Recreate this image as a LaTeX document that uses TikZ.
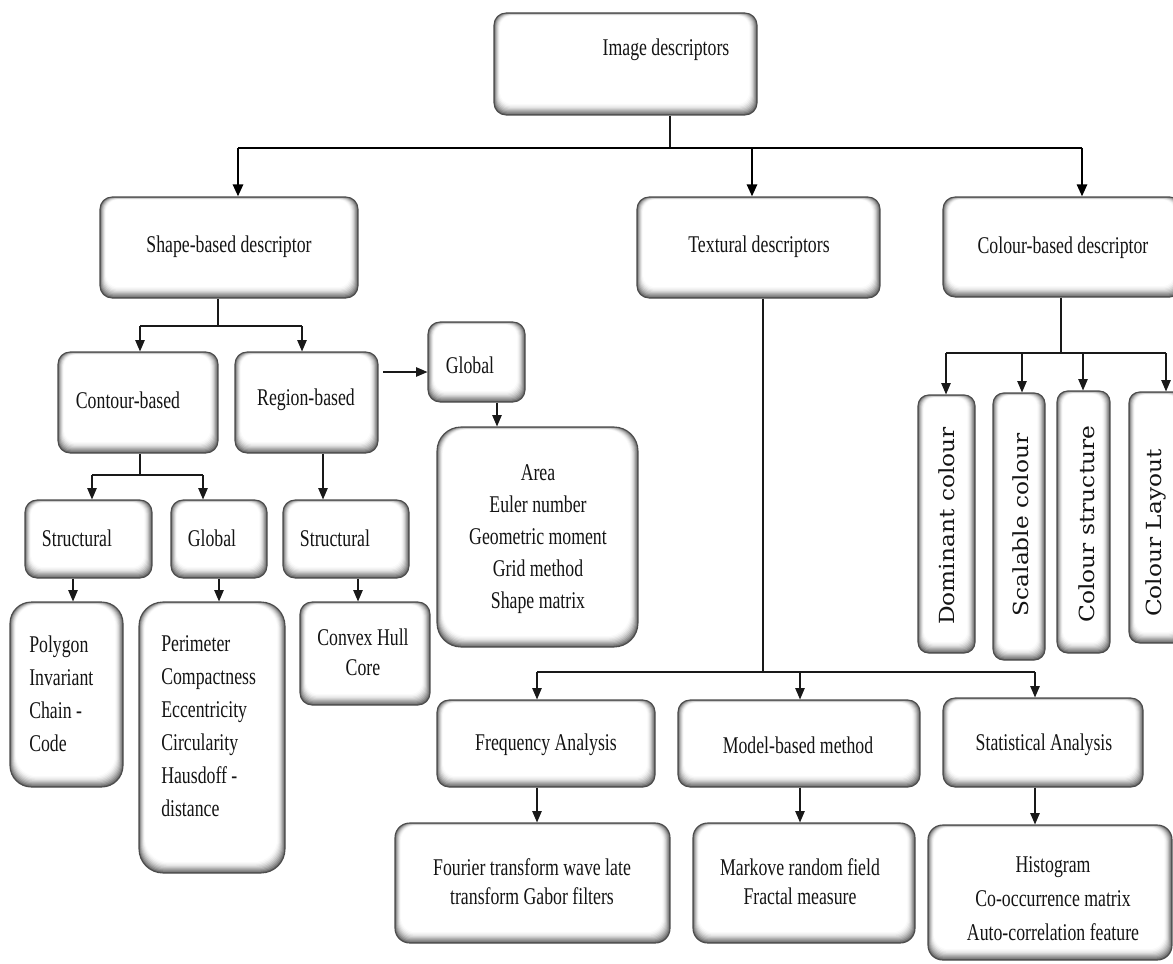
\documentclass[tikz,border=0pt]{standalone}
\usepackage{fontspec}
\setmainfont[FakeStretch=0.74]{Liberation Serif}
\newfontfamily\vfont[FakeStretch=1.12]{DejaVu Serif}
\usetikzlibrary{arrows.meta,calc}
\tikzset{
  bbox/.style={rectangle, rounded corners=#1, draw=black!70, line width=0.8pt, inner sep=0pt,
    path picture={
      \foreach \k/\c in {0/62,1/50,2/40,3/31,4/23,5/16,6/10,7/5,8/2,9/0}{
        \fill[black!\c, rounded corners=#1]
          ([shift={(0.65*\k,-1.2*\k)}]path picture bounding box.south west)
          rectangle
          ([shift={(-0.85*\k,0.3*\k)}]path picture bounding box.north east);
      }
    }},
  txt/.style={font=\fontsize{18}{24.75}\selectfont, inner sep=0pt, text=black!92},
  vtxt/.style={font=\vfont\fontsize{15.6}{18}\selectfont, rotate=90, inner sep=0pt, text=black!92},
  conn/.style={line width=1pt, black!90},
  arr/.style={conn, -{Triangle[length=8.5pt,width=7pt]}},
  barl/.style={line width=1.9pt, black},
  arrT/.style={barl, -{Triangle[length=9pt,width=7.5pt]}}
}
\newcommand\mybox[6]{\node[bbox=#6, minimum width={(#4-#2)*0.75pt}, minimum height={(#5-#3)*0.75pt}] (#1) at ({(#2+#4)/2},{(#3+#5)/2}) {};}
\begin{document}
\begin{tikzpicture}[x=0.75pt,y=-0.75pt]
\useasboundingbox[fill=white] (0,0) rectangle (1173,963);
% boxes
\mybox{img}{494}{13}{757}{115}{9pt}
\mybox{shape}{100}{197}{358}{298}{9pt}
\mybox{textural}{637}{197}{880}{298}{9pt}
\mybox{colour}{943}{197}{1182}{297}{9pt}
\mybox{contour}{58}{352}{218}{453}{9pt}
\mybox{region}{235}{352}{378}{453}{9pt}
\mybox{globT}{428}{322}{525}{402}{9pt}
\mybox{area}{437}{427}{638}{647}{18pt}
\mybox{structL}{25}{500}{152}{578}{9pt}
\mybox{globM}{171}{500}{267}{578}{9pt}
\mybox{structR}{283}{500}{409}{578}{9pt}
\mybox{polygon}{10}{602}{123}{787}{16pt}
\mybox{perim}{139}{602}{285}{873}{18pt}
\mybox{convex}{300}{602}{430}{705}{9pt}
\mybox{freq}{437}{700}{655}{787}{9pt}
\mybox{model}{678}{700}{920}{787}{9pt}
\mybox{stat}{943}{698}{1143}{787}{9pt}
\mybox{fourier}{395}{823}{670}{943}{11pt}
\mybox{markove}{693}{823}{915}{943}{11pt}
\mybox{hist}{928}{825}{1172}{960}{11pt}
\mybox{dom}{918}{395}{975}{653}{8pt}
\mybox{scal}{993}{393}{1045}{660}{8pt}
\mybox{cstr}{1057}{391}{1110}{653}{8pt}
\mybox{clay}{1129}{392}{1185}{643}{8pt}
% texts
\node[txt] (tImg) at (666,50) {Image descriptors};
\node[txt] (tShape) at (229,247) {Shape-based descriptor};
\node[txt] (tText) at (759,247) {Textural descriptors};
\node[txt] (tCol) at (1063,248) {Colour-based descriptor};
\node[txt] (tCont) at (128,400) {Contour-based};
\node[txt] (tReg) at (306,400) {Region-based};
\node[txt] (tGlobT) at (470,365) {Global};
\node[txt, align=center, font=\fontsize{18}{24}\selectfont] (tArea) at (538,539) {Area\\Euler number\\Geometric moment\\Grid method\\Shape matrix};
\node[txt] (tStructL) at (77,538) {Structural};
\node[txt] (tGlobM) at (212,538) {Global};
\node[txt] (tStructR) at (335,538) {Structural};
\node[txt, align=left, anchor=west] (tPoly) at (29,694) {Polygon\\Invariant\\Chain -\\Code};
\node[txt, align=left, anchor=west] (tPerim) at (161,726) {Perimeter\\Compactness\\Eccentricity\\Circularity\\Hausdoff -\\distance};
\node[txt, align=center, font=\fontsize{18}{22.5}\selectfont] (tConv) at (363,652) {Convex Hull\\Core};
\node[txt] (tFreq) at (546,745) {Frequency Analysis};
\node[txt] (tModel) at (798,745) {Model-based method};
\node[txt] (tStat) at (1044,745) {Statistical Analysis};
\node[txt, align=center, font=\fontsize{18}{21.75}\selectfont] (tFour) at (532,882) {Fourier transform wave late\\transform Gabor filters};
\node[txt, align=center, font=\fontsize{18}{21.75}\selectfont] (tMark) at (800,882) {Markove random field\\Fractal measure};
\node[txt, align=center, font=\fontsize{18}{25.5}\selectfont] (tHist) at (1053,899) {Histogram\\Co-occurrence matrix\\Auto-correlation feature};
\node[vtxt] (tDom) at (947,526) {Dominant colour};
\node[vtxt] (tScal) at (1021,525) {Scalable colour};
\node[vtxt] (tCstr) at (1087,524) {Colour structure};
\node[vtxt] (tClay) at (1156,533) {Colour Layout};
% junction coordinates
\coordinate (jImg) at (670,148);
\coordinate (jS) at (238,148);
\coordinate (jT) at (752,148);
\coordinate (jC) at (1082,148);
\coordinate (jSh) at (218,326);
\coordinate (jCo) at (140,326);
\coordinate (jRe) at (302,326);
\coordinate (jRg) at (383,372);
\coordinate (xGl) at (497,0);
\coordinate (jCt) at (140,475);
\coordinate (jSL) at (92,475);
\coordinate (jGM) at (203,475);
\coordinate (xSR) at (323,0);
\coordinate (xP) at (73,0);
\coordinate (xPe) at (219,0);
\coordinate (xCv) at (358,0);
\coordinate (jTx) at (763,672);
\coordinate (jF) at (537,672);
\coordinate (jM) at (800,672);
\coordinate (jSt) at (1035,672);
\coordinate (jCc) at (1061,353);
\coordinate (jD) at (946,353);
\coordinate (jSc) at (1022,353);
\coordinate (jCs) at (1083,353);
\coordinate (jL) at (1166,353);
% connectors
\draw[conn] (img.south -| jImg) -- (jImg);
\draw[barl] (jS) -- (jC);
\draw[arrT] (jS) -- (jS |- shape.north);
\draw[arrT] (jT) -- (jT |- textural.north);
\draw[arrT] (jC) -- (jC |- colour.north);
\draw[conn] (shape.south -| jSh) -- (jSh);
\draw[conn] (jCo) -- (jRe);
\draw[arr] (jCo) -- (jCo |- contour.north);
\draw[arr] (jRe) -- (jRe |- region.north);
\draw[arr] (jRg) -- (jRg -| globT.west);
\draw[arr] (globT.south -| xGl) -- (area.north -| xGl);
\draw[conn] (contour.south -| jCt) -- (jCt);
\draw[conn] (jSL) -- (jGM);
\draw[arr] (jSL) -- (jSL |- structL.north);
\draw[arr] (jGM) -- (jGM |- globM.north);
\draw[arr] (region.south -| xSR) -- (structR.north -| xSR);
\draw[arr] (structL.south -| xP) -- (polygon.north -| xP);
\draw[arr] (globM.south -| xPe) -- (perim.north -| xPe);
\draw[arr] (structR.south -| xCv) -- (convex.north -| xCv);
\draw[conn] (textural.south -| jTx) -- (jTx);
\draw[conn] (jF) -- (jSt);
\draw[arr] (jF) -- (jF |- freq.north);
\draw[arr] (jM) -- (jM |- model.north);
\draw[arr] (jSt) -- (jSt |- stat.north);
\draw[arr] (freq.south -| jF) -- (fourier.north -| jF);
\draw[arr] (model.south -| jM) -- (markove.north -| jM);
\draw[arr] (stat.south -| jSt) -- (hist.north -| jSt);
\draw[conn] (colour.south -| jCc) -- (jCc);
\draw[conn] (jD) -- (jL);
\draw[arr] (jD) -- (jD |- dom.north);
\draw[arr] (jSc) -- (jSc |- scal.north);
\draw[arr] (jCs) -- (jCs |- cstr.north);
\draw[arr] (jL) -- (jL |- clay.north);
\end{tikzpicture}
\end{document}
